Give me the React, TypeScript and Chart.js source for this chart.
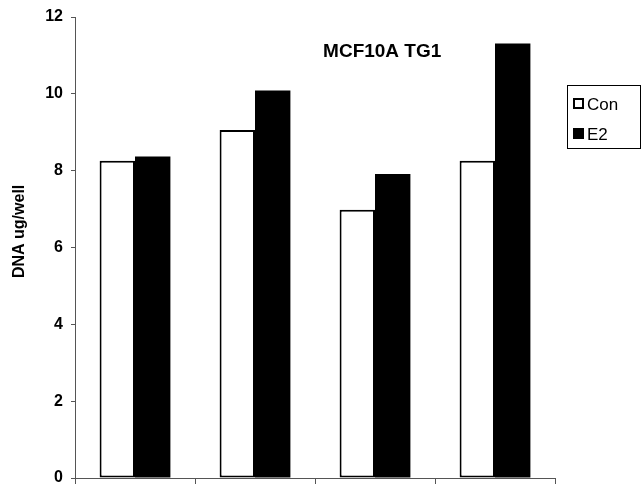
import React, { useEffect, useRef } from "react";
import { Chart, registerables } from "chart.js";

Chart.register(...registerables);

const categories = ["1", "2", "3", "4"];
const conValues = [8.26, 9.06, 6.98, 8.26];
const e2Values = [8.37, 10.09, 7.91, 11.31];
const seriesLabels = ["Con", "E2"];
const chartTitle = "MCF10A TG1";
const yAxisTitle = "DNA ug/well";

const FONT = "'Liberation Sans', Arial, sans-serif";

const overlayPlugin = {
  id: "overlay",
  afterDraw(chart: any) {
    const ctx = chart.ctx;
    const a = chart.chartArea;
    ctx.save();
    // Title inside plot area
    ctx.fillStyle = "#000";
    ctx.font = `bold 19px ${FONT}`;
    ctx.textAlign = "center";
    ctx.textBaseline = "middle";
    ctx.fillText(chartTitle, a.left + (a.right - a.left) * 0.64, a.top + 35);
    // Y axis title
    ctx.save();
    ctx.translate(20, a.top + (a.bottom - a.top) * 0.465);
    ctx.rotate(-Math.PI / 2);
    ctx.font = `bold 16px ${FONT}`;
    ctx.fillText(yAxisTitle, 0, 0);
    ctx.restore();
    // Legend
    const lx = a.right + 12;
    const ly = a.top + 68;
    const lw = 73;
    const lh = 63;
    ctx.strokeStyle = "#000";
    ctx.lineWidth = 1;
    ctx.strokeRect(lx + 0.5, ly + 0.5, lw, lh);
    ctx.font = `17px ${FONT}`;
    ctx.textAlign = "left";
    ctx.textBaseline = "alphabetic";
    chart.data.datasets.forEach((ds: any, i: number) => {
      const y = ly + 13 + i * 30;
      if (i === 0) {
        ctx.fillStyle = "#fff";
        ctx.fillRect(lx + 6, y, 10, 10);
        ctx.lineWidth = 2;
        ctx.strokeRect(lx + 7, y + 1, 9, 9);
      } else {
        ctx.fillStyle = "#000";
        ctx.fillRect(lx + 6, y, 11, 11);
      }
      ctx.fillStyle = "#000";
      ctx.fillText(ds.label, lx + 20, y + 12);
    });
    ctx.restore();
  },
};

export default function App() {
  const ref = useRef<HTMLCanvasElement>(null);
  useEffect(() => {
    if (!ref.current) return;
    const chart = new Chart(ref.current, {
      type: "bar",
      data: {
        labels: categories,
        datasets: [
          {
            label: seriesLabels[0],
            data: conValues,
            backgroundColor: "#ffffff",
            borderColor: "#000000",
            borderWidth: 2,
            borderSkipped: false,
          },
          {
            label: seriesLabels[1],
            data: e2Values,
            backgroundColor: "#000000",
            borderColor: "#000000",
            borderWidth: 0,
          },
        ],
      },
      options: {
        animation: false,
        responsive: false,
        maintainAspectRatio: false,
        layout: { padding: { left: 0, right: 87, top: 17, bottom: 0 } },
        plugins: {
          legend: { display: false },
          title: { display: false },
          tooltip: { enabled: false },
        },
        datasets: { bar: { categoryPercentage: 0.59, barPercentage: 1.0 } },
        scales: {
          x: {
            grid: {
              display: true,
              drawOnChartArea: false,
              drawTicks: true,
              tickLength: 6,
              color: "#555",
              offset: true,
            },
            border: { display: true, color: "#555", width: 1 },
            ticks: { display: false },
            afterFit: (s: any) => {
              s.height = 8;
            },
          },
          y: {
            min: 0,
            max: 12,
            grid: {
              display: true,
              drawOnChartArea: false,
              drawTicks: true,
              tickLength: 4,
              color: "#555",
            },
            border: { display: true, color: "#555", width: 1 },
            ticks: {
              stepSize: 2,
              padding: 8,
              color: "#000",
              font: { family: FONT, size: 16, weight: "bold" },
            },
            afterFit: (s: any) => {
              s.width = 75;
              s.paddingTop = 0;
              s.paddingBottom = 0;
            },
          },
        },
      },
      plugins: [overlayPlugin],
    });
    return () => chart.destroy();
  }, []);
  return (
    <div style={{ position: "fixed", left: 0, top: 0, width: 642, height: 486, background: "#fff" }}>
      <canvas ref={ref} width={642} height={486} style={{ width: 642, height: 486 }} />
    </div>
  );
}
